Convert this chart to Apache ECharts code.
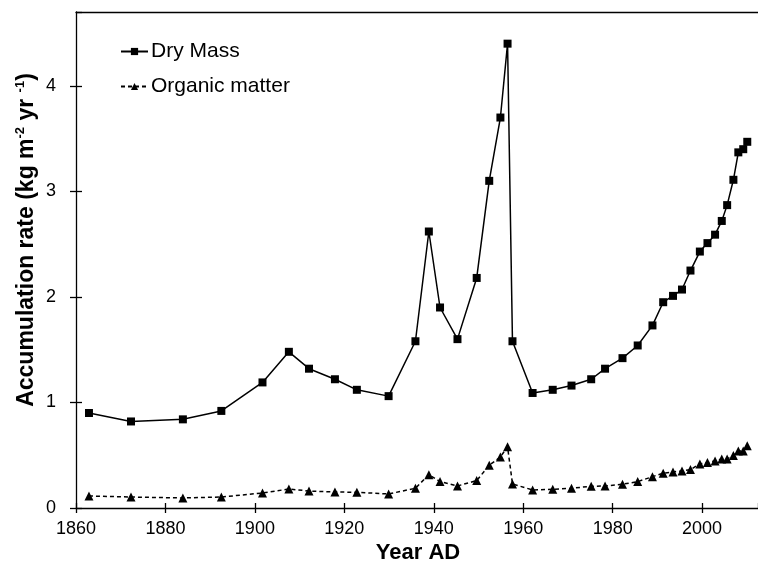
<!DOCTYPE html>
<html>
<head>
<meta charset="utf-8">
<script src="https://cdn.jsdelivr.net/npm/echarts@6/dist/echarts.min.js"></script>
<style>
  html, body { margin: 0; padding: 0; background: #fff; }
  #chart { width: 758px; height: 567px; }
</style>
</head>
<body>
<div id="chart"></div>
<script>
  // sampling years (shared by both series)
  const years = [
    1862.9, 1872.3, 1883.9, 1892.5, 1901.7, 1907.6, 1912.1, 1917.9, 1922.8, 1929.9,
    1935.9, 1938.9, 1941.4, 1945.3, 1949.6, 1952.4, 1954.9, 1956.5, 1957.6, 1962.1,
    1966.6, 1970.8, 1975.2, 1978.3, 1982.2, 1985.6, 1988.9, 1991.3, 1993.5, 1995.5,
    1997.4, 1999.5, 2001.2, 2002.9, 2004.4, 2005.6, 2007.0, 2008.1, 2009.2, 2010.1
  ];
  const dryMass = [
    0.90, 0.82, 0.84, 0.92, 1.19, 1.48, 1.32, 1.22, 1.12, 1.06,
    1.58, 2.62, 1.90, 1.60, 2.18, 3.10, 3.70, 4.40, 1.58, 1.09,
    1.12, 1.16, 1.22, 1.32, 1.42, 1.54, 1.73, 1.95, 2.01, 2.07,
    2.25, 2.43, 2.51, 2.59, 2.72, 2.87, 3.11, 3.37, 3.40, 3.47
  ];
  const organic = [
    0.114, 0.104, 0.095, 0.104, 0.142, 0.180, 0.161, 0.152, 0.149, 0.133,
    0.187, 0.316, 0.250, 0.209, 0.260, 0.405, 0.484, 0.580, 0.228, 0.171,
    0.177, 0.187, 0.206, 0.209, 0.225, 0.250, 0.297, 0.330, 0.342, 0.351,
    0.364, 0.418, 0.430, 0.446, 0.465, 0.465, 0.497, 0.541, 0.541, 0.590
  ];
  const seriesNames = ['Dry Mass', 'Organic matter'];
  const xTitle = 'Year AD';

  const font = "'Liberation Sans', Arial, sans-serif";
  const pair = (vals) => years.map((y, i) => [y, vals[i]]);

  const xBase = { type: 'value', min: 1860, max: 2012.5, interval: 20, splitLine: { show: false } };
  const yBase = { type: 'value', min: 0, max: 4.7, interval: 1, splitLine: { show: false } };

  const chart = echarts.init(document.getElementById('chart'));
  const option = {
    animation: false,
    textStyle: { fontFamily: font, color: '#000' },
    grid: { left: 76, right: 0, top: 12, bottom: 59 },
    legend: {
      orient: 'vertical',
      left: 115,
      top: 36,
      itemWidth: 27,
      itemHeight: 9,
      itemGap: 14,
      textStyle: { fontSize: 21, color: '#000', fontFamily: font, padding: [0, 0, 0, -2] },
      data: seriesNames
    },
    xAxis: [
      Object.assign({}, xBase, {
        position: 'bottom',
        axisLine: { lineStyle: { color: '#000', width: 1.3 } },
        axisTick: { length: 5, lineStyle: { color: '#000', width: 1.3 } },
        axisLabel: {
          color: '#000', fontSize: 18, margin: 12, fontFamily: font,
          showMaxLabel: false,
          formatter: (v) => (v % 20 === 0 ? String(v) : '')
        }
      }),
      // inner half of the crossing ticks
      Object.assign({}, xBase, {
        position: 'bottom',
        axisLine: { show: false },
        axisTick: { inside: true, length: 5, lineStyle: { color: '#000', width: 1.3 } },
        axisLabel: { show: false }
      }),
      // top frame line
      Object.assign({}, xBase, {
        position: 'top',
        axisLine: { lineStyle: { color: '#000', width: 1.3 } },
        axisTick: { show: false },
        axisLabel: { show: false }
      })
    ],
    yAxis: [
      Object.assign({}, yBase, {
        position: 'left',
        axisLine: { show: true, lineStyle: { color: '#000', width: 1.3 } },
        axisTick: { show: true, length: 6, lineStyle: { color: '#000', width: 1.3 } },
        axisLabel: {
          color: '#000', fontSize: 18, margin: 20, fontFamily: font,
          showMaxLabel: false,
          formatter: (v) => (v % 1 === 0 ? String(v) : '')
        }
      }),
      Object.assign({}, yBase, {
        position: 'left',
        axisLine: { show: false },
        axisTick: { show: true, inside: true, length: 6, lineStyle: { color: '#000', width: 1.3 } },
        axisLabel: { show: false }
      })
    ],
    graphic: [
      {
        type: 'text',
        x: 27,
        y: 240,
        rotation: Math.PI / 2,
        style: {
          text: '{t|Accumulation rate (kg m}{s|-2}{t| yr }{s|-1}{t|)}',
          align: 'center',
          verticalAlign: 'middle',
          rich: {
            t: { fontFamily: font, fontWeight: 'bold', fontSize: 23, lineHeight: 26, fill: '#000' },
            s: { fontFamily: font, fontWeight: 'bold', fontSize: 13, lineHeight: 26, verticalAlign: 'top', fill: '#000' }
          }
        }
      },
      {
        type: 'text',
        x: 418,
        y: 553,
        style: {
          text: xTitle,
          align: 'center',
          verticalAlign: 'middle',
          fontFamily: font,
          fontWeight: 'bold',
          fontSize: 22,
          fill: '#000'
        }
      }
    ],
    series: [
      {
        name: seriesNames[0],
        type: 'line',
        data: pair(dryMass),
        symbol: 'rect',
        symbolSize: 8,
        itemStyle: { color: '#000' },
        lineStyle: { color: '#000', width: 1.5 }
      },
      {
        name: seriesNames[1],
        type: 'line',
        data: pair(organic),
        symbol: 'triangle',
        symbolSize: 9,
        itemStyle: { color: '#000' },
        lineStyle: { color: '#000', width: 1.5, type: [4, 3] }
      }
    ]
  };
  option && chart.setOption(option);
</script>
</body>
</html>
